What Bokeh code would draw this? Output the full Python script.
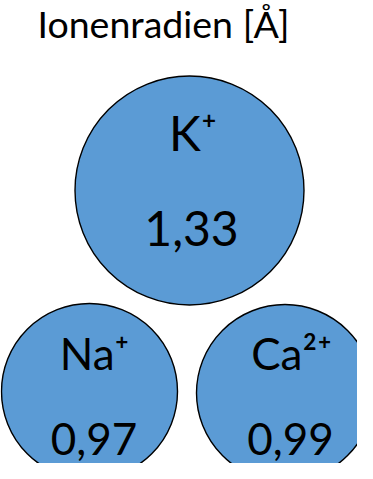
from bokeh.plotting import figure
from bokeh.models import Range1d, ColumnDataSource
from bokeh.core.properties import value
from bokeh.embed import file_html
from bokeh.resources import INLINE

# ---- data ----
title_text = "Ionenradien [Å]"
ions = ["K⁺", "Na⁺", "Ca²⁺"]
radius_values = [1.33, 0.97, 0.99]
radius_labels = [f"{v:.2f}".replace(".", ",") for v in radius_values]

# ---- layout (figure pixel space, y downward) ----
W, H = 357, 463
cx = [189, 89, 284.5]
cy = [190, 391, 392.5]
cr = [114.5, 88, 88.5]
ion_x = [192.5, 94, 291]
ion_y = [131.6, 352.9, 352.9]
val_x = [191, 93.5, 290]
val_y = [227.6, 438.4, 438.4]
sizes = ["48px", "44px", "44px"]

p = figure(width=W, height=H, output_backend="svg", toolbar_location=None,
           x_range=Range1d(0, W), y_range=Range1d(H, 0),
           min_border=0, outline_line_color=None)
p.axis.visible = False
p.grid.visible = False
p.background_fill_color = "white"
p.border_fill_color = "white"

src = ColumnDataSource(dict(x=cx, y=cy, r=cr, ion=ions, val=radius_labels,
                            ix=ion_x, iy=ion_y, vx=val_x, vy=val_y, fs=sizes))

p.circle(x="x", y="y", radius="r", source=src, fill_color="#5B9BD5",
         line_color="black", line_width=1.4)

p.text(x="ix", y="iy", text="ion", source=src, text_font=value("Lato"),
       text_font_size="fs", text_align="center", text_baseline="middle",
       text_color="black")
p.text(x="vx", y="vy", text="val", source=src, text_font=value("Lato"),
       text_font_size="fs", text_align="center", text_baseline="middle",
       text_color="black")

p.text(x=[37], y=[22.5], text=[title_text], text_font=value("Lato"),
       text_font_size="37.5px", text_align="left", text_baseline="middle",
       text_color="black")

open("out.html", "w").write(file_html(p, INLINE))
